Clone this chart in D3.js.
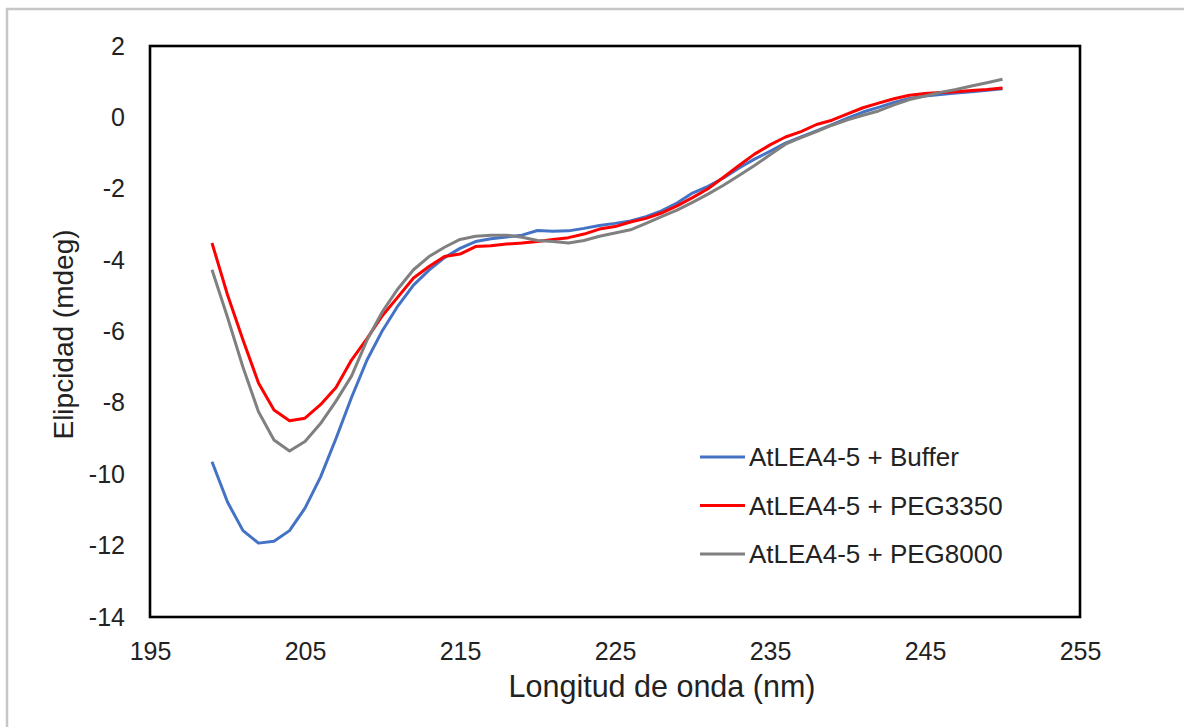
<!DOCTYPE html>
<html>
<head>
<meta charset="utf-8">
<script src="https://cdn.jsdelivr.net/npm/d3@7/dist/d3.min.js"></script>
<style>
  html, body { margin: 0; padding: 0; background: #fff; }
  svg { display: block; font-family: "Liberation Sans", Arial, sans-serif; }
</style>
</head>
<body>
<svg id="chart" width="1184" height="727"></svg>
<script>
// Wavelength (nm), 1 nm steps
const wavelengths = d3.range(199, 251);

const buffer = [
  -9.65, -10.78, -11.58, -11.93, -11.88, -11.58, -10.95, -10.08, -9.0, -7.85,
  -6.8, -5.97, -5.28, -4.7, -4.28, -3.93, -3.67, -3.48, -3.4, -3.35,
  -3.3, -3.17, -3.19, -3.18, -3.11, -3.03, -2.97, -2.9, -2.78, -2.62,
  -2.4, -2.12, -1.93, -1.7, -1.42, -1.17, -0.95, -0.72, -0.55, -0.38,
  -0.2, -0.02, 0.15, 0.28, 0.42, 0.53, 0.6, 0.64, 0.68, 0.72,
  0.76, 0.8
];

const peg3350 = [
  -3.52, -4.97, -6.24, -7.44, -8.2, -8.5, -8.43, -8.05, -7.57, -6.8,
  -6.2, -5.55, -5.03, -4.5, -4.18, -3.9, -3.83, -3.62, -3.6, -3.55,
  -3.52, -3.48, -3.42, -3.37, -3.27, -3.13, -3.06, -2.93, -2.83, -2.68,
  -2.48, -2.25, -2.0, -1.68, -1.35, -1.03, -0.77, -0.55, -0.4, -0.2,
  -0.08, 0.1, 0.27, 0.4, 0.52, 0.62, 0.67, 0.7, 0.72, 0.75,
  0.78, 0.82
];

const peg8000 = [
  -4.27, -5.6, -7.0, -8.25, -9.04, -9.35, -9.08, -8.58, -7.95, -7.25,
  -6.24, -5.44, -4.8, -4.27, -3.9, -3.64, -3.42, -3.33, -3.3, -3.3,
  -3.36, -3.45, -3.48, -3.52, -3.45, -3.33, -3.24, -3.15, -2.97, -2.78,
  -2.6, -2.38, -2.15, -1.9, -1.63, -1.35, -1.05, -0.75, -0.57, -0.4,
  -0.22, -0.07, 0.06, 0.18, 0.35, 0.5, 0.6, 0.7, 0.78, 0.88,
  0.97, 1.07
];

const seriesNames = ["AtLEA4-5 + Buffer", "AtLEA4-5 + PEG3350", "AtLEA4-5 + PEG8000"];
const seriesColors = ["#4472C4", "#FF0000", "#808080"];
const seriesValues = [buffer, peg3350, peg8000];

const xTicks = [195, 205, 215, 225, 235, 245, 255];
const yTicks = [2, 0, -2, -4, -6, -8, -10, -12, -14];

const svg = d3.select("#chart");

// Outer chart border (partially off-page)
svg.append("rect")
  .attr("x", 7).attr("y", 9)
  .attr("width", 1300).attr("height", 900)
  .attr("fill", "none")
  .attr("stroke", "#c6c6c6")
  .attr("stroke-width", 2.5);

const plot = { left: 150, right: 1080, top: 46, bottom: 617 };

const x = d3.scaleLinear().domain([195, 255]).range([plot.left, plot.right]);
const y = d3.scaleLinear().domain([-14, 2]).range([plot.bottom, plot.top]);

// X axis labels
const xAxis = svg.append("g")
  .attr("transform", `translate(0,${plot.bottom + 22})`)
  .call(d3.axisBottom(x).tickValues(xTicks).tickSize(0).tickFormat(d3.format("d")));
xAxis.select(".domain").remove();
xAxis.selectAll("text")
  .attr("font-size", 25)
  .attr("font-family", "Liberation Sans, Arial, sans-serif")
  .attr("fill", "#222");

// Y axis labels
const yAxis = svg.append("g")
  .attr("transform", `translate(${plot.left - 25},0)`)
  .call(d3.axisLeft(y).tickValues(yTicks).tickSize(0).tickFormat(d3.format("d")));
yAxis.select(".domain").remove();
yAxis.selectAll("text")
  .attr("font-size", 25)
  .attr("font-family", "Liberation Sans, Arial, sans-serif")
  .attr("fill", "#222")
  .attr("x", 0)
  .text(d => String(d).replace("\u2212", "-"));

// Series lines
const line = d3.line()
  .x((d, i) => x(wavelengths[i]))
  .y(d => y(d));

seriesValues.forEach((vals, k) => {
  svg.append("path")
    .datum(vals)
    .attr("d", line)
    .attr("fill", "none")
    .attr("stroke", seriesColors[k])
    .attr("stroke-width", 3)
    .attr("stroke-linejoin", "round");
});

// Plot frame
svg.append("rect")
  .attr("x", plot.left).attr("y", plot.top)
  .attr("width", plot.right - plot.left)
  .attr("height", plot.bottom - plot.top)
  .attr("fill", "none")
  .attr("stroke", "#000")
  .attr("stroke-width", 2.6);

// Axis titles
svg.append("text")
  .attr("x", 662)
  .attr("y", 697)
  .attr("text-anchor", "middle")
  .attr("font-size", 30.5)
  .attr("fill", "#222")
  .text("Longitud de onda (nm)");

svg.append("text")
  .attr("transform", `translate(73,${(plot.top + plot.bottom) / 2 + 3}) rotate(-90)`)
  .attr("text-anchor", "middle")
  .attr("font-size", 28)
  .attr("fill", "#222")
  .text("Elipcidad (mdeg)");

// Legend
const legend = svg.append("g").attr("transform", "translate(700,457)");
seriesNames.forEach((name, k) => {
  const g = legend.append("g").attr("transform", `translate(0,${k * 48.5})`);
  g.append("line")
    .attr("x1", 0).attr("x2", 45)
    .attr("y1", 0).attr("y2", 0)
    .attr("stroke", seriesColors[k])
    .attr("stroke-width", 3);
  g.append("text")
    .attr("x", 49)
    .attr("y", 0)
    .attr("dy", "0.35em")
    .attr("font-size", 26)
    .attr("fill", "#222")
    .text(name);
});
</script>
</body>
</html>
